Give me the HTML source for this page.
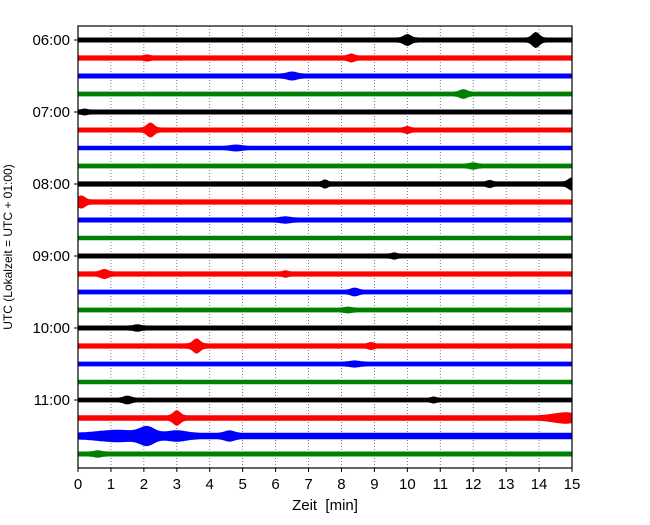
<!DOCTYPE html>
<html><head><meta charset="utf-8"><style>
body{margin:0;background:#fff}
svg text{font-family:"Liberation Sans","DejaVu Sans",sans-serif}
</style></head><body>
<svg id="chart" width="650" height="520" xmlns="http://www.w3.org/2000/svg"></svg>
<script>
const hourLabels=["06:00","07:00","08:00","09:00","10:00","11:00"];
const xTicks=[0,1,2,3,4,5,6,7,8,9,10,11,12,13,14,15];
const traceColors=["black","red","blue","green"];
const baseAmp=[2.5,2.6,2.5,2.4,2.5,2.5,2.3,2.4,2.6,2.6,2.5,2.3,2.5,2.6,2.4,2.4,2.5,2.6,2.4,2.3,2.4,2.7,3.2,2.5];
// events per trace: [time(min), extra half-amplitude(px), width(min)]
const events=[
 [[10.0,3.5,0.15],[13.9,5.5,0.15]],
 [[8.3,2,0.12],[2.1,1,0.1]],
 [[6.5,2,0.2]],
 [[11.7,2.5,0.15]],
 [[0.2,1,0.1]],
 [[2.2,5,0.15],[10.0,1.5,0.1]],
 [[4.8,1.2,0.2]],
 [[12.0,1.2,0.15]],
 [[7.5,2,0.1],[12.5,1.5,0.1],[15.0,4,0.15]],
 [[0.1,4,0.15]],
 [[6.3,1.2,0.2]],
 [],
 [[9.6,1.2,0.1]],
 [[0.8,2.5,0.15],[6.3,1.2,0.1]],
 [[8.4,2,0.15]],
 [[8.2,1,0.15]],
 [[1.8,1.2,0.15]],
 [[3.6,5,0.15],[8.9,1.5,0.1]],
 [[8.4,1.2,0.2]],
 [],
 [[1.5,2,0.15],[10.8,1.2,0.1]],
 [[3.0,5,0.15],[14.8,3,0.5]],
 [[1.2,3,0.8],[2.1,6,0.3],[3.0,2.5,0.4],[4.6,2.5,0.2]],
 [[0.6,1.2,0.15]]
];
const L=78,R=572,T=26,B=468,Y0=40,DY=18;
const xs=t=>L+(t-0)/(15-0)*(R-L);
const ys=i=>Y0+i*DY;
const svg=document.getElementById('chart');
const NS="http://www.w3.org/2000/svg";
function mk(tag,attrs){const e=document.createElementNS(NS,tag);for(const k in attrs)e.setAttribute(k,attrs[k]);svg.appendChild(e);return e;}
xTicks.forEach(t=>{if(t>0&&t<15){const g=mk('line',{x1:xs(t),x2:xs(t),y1:T,y2:B,stroke:'#555','stroke-width':0.8,'stroke-dasharray':'1,2'});

}});
baseAmp.forEach((b,i)=>{
 const up=[],dn=[];
 for(let t=0;t<=15.0001;t+=0.05){
  let h=b;events[i].forEach(e=>{h+=e[1]*Math.exp(-Math.pow((t-e[0])/e[2],2));});
  up.push(xs(t).toFixed(1)+','+(ys(i)-h).toFixed(1));
  dn.unshift(xs(t).toFixed(1)+','+(ys(i)+h).toFixed(1));
 }
 const p=mk('polygon',{points:up.concat(dn).join(' '),fill:traceColors[i%4]});
 
 
});
const f=mk('rect',{x:L,y:T,width:R-L,height:B-T,fill:'none',stroke:'black','stroke-width':1.2});


xTicks.forEach(t=>{
 mk('line',{x1:xs(t),x2:xs(t),y1:B,y2:B+4,stroke:'black'});
 const tx=mk('text',{x:xs(t),y:B+21,'font-size':15,'text-anchor':'middle'});tx.textContent=t;
 
 
});
hourLabels.forEach((h,k)=>{
 const y=ys(k*4);
 mk('line',{x1:L-4,x2:L,y1:y,y2:y,stroke:'black'});
 const tx=mk('text',{x:L-8,y:y+5,'font-size':15,'text-anchor':'end'});tx.textContent=h;
 
 
});
const xt=mk('text',{x:325,y:510,'font-size':15,'text-anchor':'middle'});xt.textContent="Zeit\u00a0\u00a0[min]";


const yt=mk('text',{x:12,y:247,'font-size':12,'text-anchor':'middle',transform:'rotate(-90 12 247)'});yt.textContent="UTC (Lokalzeit = UTC + 01:00)";


</script>
</body></html>
